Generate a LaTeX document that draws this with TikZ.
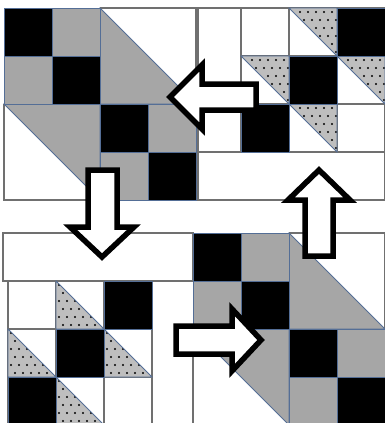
\documentclass[tikz,border=0pt]{standalone}
\definecolor{quiltgray}{RGB}{166,166,166}
\definecolor{dotgray}{RGB}{190,190,190}
\definecolor{seamblue}{RGB}{84,110,150}
\definecolor{rulegray}{RGB}{112,112,112}
\tikzset{
	seamline/.style={draw=seamblue,line width=0.8pt},
	gridline/.style={draw=rulegray,line width=1.2pt},
	blockarrow/.style={draw=black,fill=white,line width=5.5pt,line join=miter},
}
\newcommand\hexblock[2]{%
	\begin{scope}[shift={(#1,#2)}]
		\draw[gridline](96,0)--(192,0)--(192,96)(0,96)--(0,192)--(96,192);
		\filldraw[fill=quiltgray,seamline](96,0)--(192,96)--(96,96)--cycle;
		\filldraw[fill=quiltgray,seamline](0,96)--(96,96)--(96,192)--cycle;
		\foreach\c/\r in{1/0,0/1,3/2,2/3}\filldraw[fill=quiltgray,seamline](48*\c,48*\r)rectangle++(48,48);
		\foreach\c in{0,...,3}\filldraw[fill=black,seamline](48*\c,48*\c)rectangle++(48,48);
	\end{scope}}
\newcommand\dottri[4]{%
	\fill[dotgray](#1,#2)--++(48,48)--++(#3,#4)--cycle;
	\begin{scope}
		\clip(#1,#2)--++(48,48)--++(#3,#4)--cycle;
		\foreach\i in{0,...,5}\foreach\j in{0,...,5}\fill({#1+3+8*\i+4*mod(\j,2)},{#2+4+8*\j})circle(1.1pt);
	\end{scope}
	\draw[seamline](#1,#2)--++(48,48)--++(#3,#4)--cycle;}
\newcommand\dotblock[4]{%
	\begin{scope}[shift={(#1,#2)}]
		\foreach\c/\r in{1/0,0/1,2/1,1/2}\dottri{48*\c}{48*\r}{#3}{#4};
		\foreach\c/\r in{2/0,1/1,0/2}\filldraw[fill=black,seamline](48*\c,48*\r)rectangle++(48,48);
	\end{scope}}
\begin{document}
\begin{tikzpicture}[x=1pt,y=-1pt]
	\useasboundingbox(0,0)rectangle(385,423);
	\draw[gridline](198,8)rectangle(385,200)(198,152)--(385,152);
	\foreach\k in{0,...,3}\draw[gridline](241+48*\k,8)--(241+48*\k,152);
	\foreach\k in{1,2}\draw[gridline](241,8+48*\k)--(385,8+48*\k);
	\dotblock{241}{8}{0}{-48}
	\hexblock{4}{8}
	\draw[gridline](3,233)rectangle(193,281);
	\foreach\k in{0,...,3}\draw[gridline](8+48*\k,281)--(8+48*\k,425);
	\foreach\k in{1,2}\draw[gridline](8,281+48*\k)--(152,281+48*\k);
	\dotblock{8}{281}{-48}{0}
	\hexblock{193}{233}
	\draw[blockarrow](170,97)--(202,65)--(202,84)--(256,84)--(256,110)--(202,110)--(202,129)--cycle;
	\draw[blockarrow](88,170)--(117,170)--(117,227)--(134,227)--(102,257)--(70,227)--(88,227)--cycle;
	\draw[blockarrow](176,326)--(232,326)--(232,309)--(261,340)--(232,371)--(232,354)--(176,354)--cycle;
	\draw[blockarrow](305,256)--(305,200)--(288,200)--(319,170)--(350,200)--(333,200)--(333,256)--cycle;
\end{tikzpicture}
\end{document}
